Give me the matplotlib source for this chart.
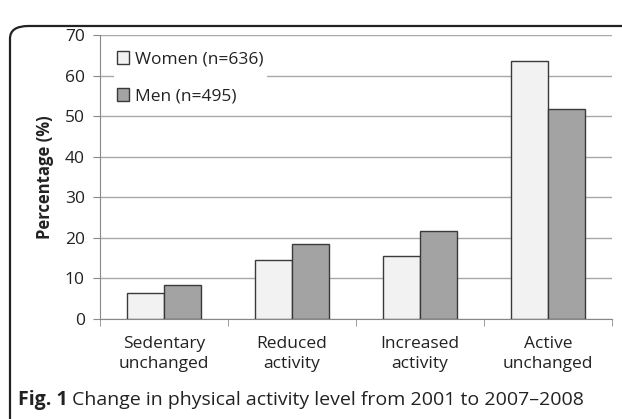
import matplotlib.pyplot as plt
import numpy as np
from matplotlib.patches import FancyBboxPatch

categories = ["Sedentary\nunchanged", "Reduced\nactivity", "Increased\nactivity", "Active\nunchanged"]
women = [6.4, 14.5, 15.6, 63.7]
men = [8.3, 18.5, 21.7, 51.7]
series_labels = ["Women (n=636)", "Men (n=495)"]
yticks = [0, 10, 20, 30, 40, 50, 60, 70]

plt.rcParams['font.family'] = ['Open Sans', 'DejaVu Sans']

fig = plt.figure(figsize=(6.22, 4.19), dpi=100)

# rounded frame around the figure
box = FancyBboxPatch((10 / 622, -0.1), 1.2, 1.069 - 13 / 419,
                     boxstyle="round,pad=0,rounding_size=0.03",
                     transform=fig.transFigure, fill=False,
                     edgecolor="#222222", linewidth=1.6, clip_on=False)
fig.patches.append(box)

ax = fig.add_axes([100 / 622, 1 - 319 / 419, 512 / 622, 284 / 419])

x = np.arange(len(categories))
w = 0.29
ax.bar(x - w / 2, women, w, color="#f2f2f2", edgecolor="#3a3a3a", linewidth=1, zorder=3, label=series_labels[0])
ax.bar(x + w / 2, men, w, color="#a3a3a3", edgecolor="#3a3a3a", linewidth=1, zorder=3, label=series_labels[1])

ax.set_xlim(-0.5, len(categories) - 0.5)
ax.set_ylim(0, 70)
ax.set_yticks(yticks)
ax.yaxis.grid(True, color="#a8a8a8", linewidth=1, zorder=0)
ax.set_axisbelow(True)

ax.set_xticks(x)
ax.set_xticklabels(categories, fontsize=12.5, color="#222222", linespacing=1.35)
ax.tick_params(axis="x", length=0, pad=12)
ax.set_xticks(np.arange(-0.5, len(categories), 1.0), minor=True)
ax.tick_params(axis="x", which="minor", length=5, color="#888888")
ax.tick_params(axis="y", length=5, color="#888888", labelsize=12.5, labelcolor="#222222", pad=6)

for s in ["top", "right"]:
    ax.spines[s].set_visible(False)
for s in ["left", "bottom"]:
    ax.spines[s].set_color("#888888")

ax.set_ylabel("Percentage (%)", fontsize=12, fontweight="bold", color="#222222", labelpad=8)

leg = ax.legend(loc="upper left", bbox_to_anchor=(0.01, 0.985), fontsize=12.5,
                handlelength=0.7, handleheight=0.7, handletextpad=0.3,
                labelspacing=1.2, frameon=True, fancybox=False, framealpha=1,
                borderpad=0.2)
leg.get_frame().set_edgecolor("none")
leg.get_frame().set_facecolor("white")
for t in leg.get_texts():
    t.set_color("#222222")

fig.text(18 / 622, 1 - 400 / 419, "Fig. 1", fontsize=14, fontweight="bold", color="#222222", va="center")
fig.text(72 / 622, 1 - 400 / 419, "Change in physical activity level from 2001 to 2007\u20132008",
         fontsize=14, color="#222222", va="center")

fig.savefig("out.png", dpi=100)
